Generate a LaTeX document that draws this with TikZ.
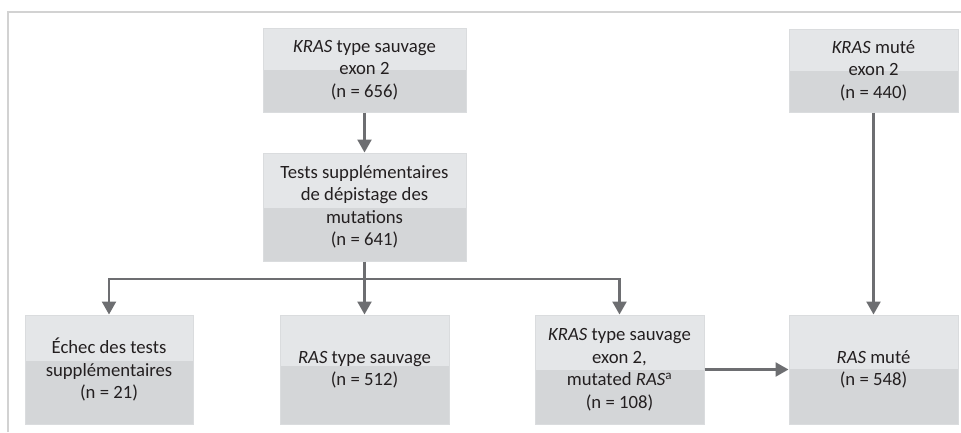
\documentclass[tikz,border=0pt]{standalone}
\usepackage{fontspec}
\setmainfont{Carlito}
\usetikzlibrary{arrows.meta}
\definecolor{topfill}{HTML}{E4E6E8}
\definecolor{botfill}{HTML}{D4D6D8}
\definecolor{edgecol}{HTML}{DADCDE}
\definecolor{arrcol}{HTML}{6D6E71}
\definecolor{framecol}{HTML}{D2D2D2}
\definecolor{txtcol}{HTML}{231F20}
\begin{document}
\begin{tikzpicture}[x=1pt,y=-1pt,
  box/.style={draw=edgecol, line width=1pt, align=center, inner sep=0pt,
    text=txtcol, font=\fontsize{18.7pt}{22.5pt}\selectfont},
  conn/.style={draw=arrcol, line width=2.4pt},
  arr/.style={conn, -{Triangle[length=13pt,width=14pt]}}]
\useasboundingbox (0,0) rectangle (961,432);
% frame
\draw[framecol, line width=2pt] (8,432) -- (8,12) -- (961,12);
% fills
\fill[topfill] (263,28) rectangle (466,70);   \fill[botfill] (263,70) rectangle (466,112);
\fill[topfill] (263,153) rectangle (466,208);  \fill[botfill] (263,208) rectangle (466,261);
\fill[topfill] (789,29) rectangle (958,71);   \fill[botfill] (789,71) rectangle (958,112);
\fill[topfill] (25,315) rectangle (193,361);  \fill[botfill] (25,361) rectangle (193,424);
\fill[topfill] (280,315) rectangle (449,366); \fill[botfill] (280,366) rectangle (449,424);
\fill[topfill] (535,315) rectangle (704,370); \fill[botfill] (535,370) rectangle (704,424);
\fill[topfill] (789,315) rectangle (958,369); \fill[botfill] (789,369) rectangle (958,424);
% nodes
\node[box, minimum width=203pt, minimum height=84pt] (A) at (364.5,70)
  {\textit{KRAS} type sauvage\\exon 2\\(n = 656)};
\node[box, minimum width=203pt, minimum height=108pt] (B) at (364.5,207)
  {Tests supplémentaires\\de dépistage des\\mutations\\(n = 641)};
\node[box, minimum width=169pt, minimum height=83pt] (C) at (873.5,70.5)
  {\textit{KRAS} muté\\exon 2\\(n = 440)};
\node[box, minimum width=168pt, minimum height=109pt] (E) at (109,369.5)
  {Échec des tests\\supplémentaires\\(n = 21)};
\node[box, minimum width=169pt, minimum height=109pt] (R) at (364.5,369.5)
  {\textit{RAS} type sauvage\\(n = 512)};
\node[box, minimum width=169pt, minimum height=109pt] (M) at (619.5,369.5)
  {\textit{KRAS} type sauvage\\exon 2,\\mutated \textit{RAS}\textsuperscript{a}\\(n = 108)};
\node[box, minimum width=169pt, minimum height=109pt] (RM) at (873.5,369.5)
  {\textit{RAS} muté\\(n = 548)};
% connectors
\coordinate (hub) at (364.5,279);
\draw[arr] (A) -- (B);
\draw[conn] (B) -- (hub);
\draw[arr] (hub) -| (E.north);
\draw[arr] (hub) -- (R.north);
\draw[arr] (hub) -| (M.north);
\draw[arr] (C) -- (RM);
\draw[arr] (M) -- (RM);
\end{tikzpicture}
\end{document}
